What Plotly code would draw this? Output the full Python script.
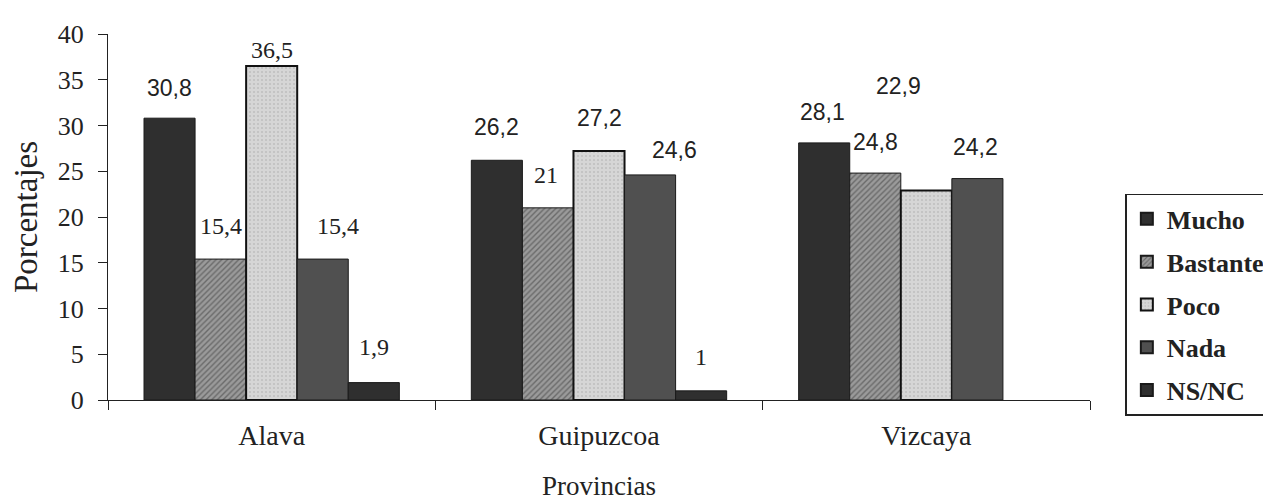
import plotly.graph_objects as go

provincias = ["Alava", "Guipuzcoa", "Vizcaya"]
series_names = ["Mucho", "Bastante", "Poco", "Nada", "NS/NC"]
mucho = [30.8, 26.2, 28.1]
bastante = [15.4, 21.0, 24.8]
poco = [36.5, 27.2, 22.9]
nada = [15.4, 24.6, 24.2]
nsnc = [1.9, 1.0, None]
values = [mucho, bastante, poco, nada, nsnc]
y_ticks = [0, 5, 10, 15, 20, 25, 30, 35, 40]

SERIF = "Liberation Serif"
SANS = "Liberation Sans"

# label styling (font per label, vertical lift / horizontal nudge in px)
label_fonts = [
    [SANS, SANS, SANS],
    [SERIF, SERIF, SANS],
    [SERIF, SANS, SANS],
    [SERIF, SANS, SANS],
    [SERIF, SERIF, SANS],
]
label_lift = [
    [30, 33, 31],
    [33, 33, 31],
    [16, 33, 104],
    [33, 25, 32],
    [36, 34, 0],
]
label_nudge = [
    [0, 0, -2],
    [0, -2, 0],
    [0, 0, -28],
    [15, 24, -2],
    [0, 0, 0],
]

styles = [
    dict(color="#2f2f2f", line=dict(color="#1a1a1a", width=1)),
    dict(color="#8a8a8a", line=dict(color="#1a1a1a", width=1),
         pattern=dict(shape="/", fgcolor="#3a3a3a", bgcolor="#9a9a9a", size=4, solidity=0.35)),
    dict(color="#d2d2d2", line=dict(color="#111111", width=2),
         pattern=dict(shape=".", fgcolor="#a8a8a8", bgcolor="#d6d6d6", size=4, solidity=0.2)),
    dict(color="#505050", line=dict(color="#1a1a1a", width=1)),
    dict(color="#2f2f2f", line=dict(color="#1a1a1a", width=1)),
]

fig = go.Figure()
for name, vals, st in zip(series_names, values, styles):
    fig.add_trace(go.Bar(name=name, x=provincias, y=vals, marker=st, legendgroup=name))

W, H = 1271, 499
ml, mr, mt, mb = 100, 189, 26, 107
bargap = 0.22
plot_w = W - ml - mr
cat_w = plot_w / len(provincias)
bar_w = cat_w * (1 - bargap) / len(series_names)

def fmt(v):
    s = ("%.1f" % v).rstrip("0").rstrip(".")
    return s.replace(".", ",")

annotations = []
for j, vals in enumerate(values):
    for i, v in enumerate(vals):
        if v is None:
            continue
        fam = label_fonts[j][i]
        annotations.append(dict(
            x=provincias[i], y=v, xref="x", yref="y",
            text=fmt(v), showarrow=False,
            xshift=(j - (len(series_names) - 1) / 2) * bar_w + label_nudge[j][i],
            yshift=label_lift[j][i],
            font=dict(family=fam, size=23 if fam == SANS else 24, color="#222"),
        ))

fig.update_layout(
    width=W, height=H, autosize=False,
    margin=dict(l=ml, r=mr, t=mt, b=mb, autoexpand=False),
    paper_bgcolor="white", plot_bgcolor="white",
    barmode="group", bargap=bargap, bargroupgap=0,
    font=dict(family=SERIF, size=24, color="#222"),
    annotations=annotations,
    showlegend=True,
    legend=dict(
        x=1.036, xanchor="left", y=0.563, yanchor="top",
        bordercolor="#222", borderwidth=1.5,
        font=dict(family=SERIF, size=26, color="#222", weight="bold"),
        itemsizing="constant", tracegroupgap=6,
    ),
    xaxis=dict(
        showline=True, linecolor="#222", linewidth=1.2,
        ticks="outside", tickson="boundaries", ticklen=9, tickcolor="#222",
        showgrid=False,
        title=dict(text="Provincias", font=dict(family=SERIF, size=27), standoff=26),
        tickfont=dict(family=SERIF, size=28, color="#222"),
        ticklabelstandoff=10,
    ),
    yaxis=dict(
        range=[0, 40], tickvals=y_ticks, showline=True, linecolor="#222", linewidth=1.2,
        ticks="outside", ticklen=9, tickcolor="#222", showgrid=False, zeroline=False,
        title=dict(text="Porcentajes", font=dict(family=SERIF, size=33), standoff=11),
        tickfont=dict(family=SERIF, size=26, color="#222"),
        ticklabelstandoff=9,
    ),
)

fig.write_html("out.html")
